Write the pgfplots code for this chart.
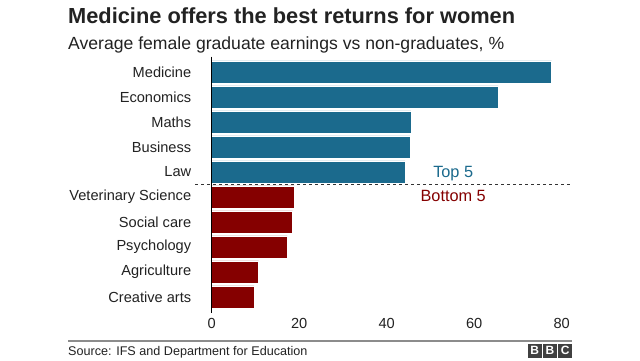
\documentclass[border=0pt]{standalone}
\usepackage{pgfplots}
\pgfplotsset{compat=1.18}
\usepackage{fontspec}
\setmainfont{Liberation Sans}
\definecolor{topblue}{HTML}{1B6A8D}
\definecolor{botred}{HTML}{850000}
\definecolor{txt}{HTML}{222222}
\begin{document}
\begin{tikzpicture}[x=1pt,y=1pt]
\path[fill=white] (0,0) rectangle (640,360);
% title
\node[anchor=base west,font=\fontsize{21.8}{24}\selectfont\bfseries,text=txt,inner sep=0] at (68,337) {Medicine offers the best returns for women};
\node[anchor=base west,font=\fontsize{17.6}{20}\selectfont,text=txt,inner sep=0] at (68,311) {Average female graduate earnings vs non-graduates, \%};
\begin{axis}[
  at={(211.7pt,50.5pt)}, anchor=south west,
  scale only axis, width=350pt, height=250pt,
  xmin=0, xmax=80, ymin=-0.5, ymax=9.5,
  y dir=reverse,
  xbar, bar width=0.9, bar shift=0pt,
  axis x line=none,
  axis y line*=left,
  y axis line style={draw=none},
  xtick={0,20,40,60,80},
  ytick={0,...,9},
  yticklabels={Medicine,Economics,Maths,Business,Law,Veterinary Science,Social care,Psychology,Agriculture,Creative arts},
  yticklabel style={font=\fontsize{14.6}{16}\selectfont, text=txt, xshift=-17pt},
  major tick length=0pt,
  clip=false,
]
\addplot[fill=topblue, draw=white, line width=0.5pt] coordinates {(77.7,0) (65.5,1) (45.5,2) (45.3,3) (44.2,4)};
\addplot[fill=botred, draw=white, line width=0.5pt] coordinates {(18.9,5) (18.5,6) (17.3,7) (10.7,8) (9.7,9)};
\draw[black, line width=1.2pt] (axis cs:0,-0.62) -- (axis cs:0,9.62);
\draw[dashed, line width=0.7pt, black!80] (axis cs:-3.8,4.5) -- (axis cs:81.9,4.5);
\node[text=topblue, font=\fontsize{16.3}{18}\selectfont] at (axis cs:55.2,4.05) {Top 5};
\node[text=botred, font=\fontsize{16.3}{18}\selectfont] at (axis cs:55.2,4.95) {Bottom 5};
\node[text=txt, font=\fontsize{14.6}{16}\selectfont] at (axis cs:0,9.5) [yshift=-13.5pt] {0};
\node[text=txt, font=\fontsize{14.6}{16}\selectfont] at (axis cs:20,9.5) [yshift=-13.5pt] {20};
\node[text=txt, font=\fontsize{14.6}{16}\selectfont] at (axis cs:40,9.5) [yshift=-13.5pt] {40};
\node[text=txt, font=\fontsize{14.6}{16}\selectfont] at (axis cs:60,9.5) [yshift=-13.5pt] {60};
\node[text=txt, font=\fontsize{14.6}{16}\selectfont] at (axis cs:80,9.5) [yshift=-13.5pt] {80};
\end{axis}
\draw[line width=1.3pt, black!45] (68,19) -- (572,19);
\node[anchor=base west,font=\fontsize{12.6}{14}\selectfont,text=txt,inner sep=0] at (68,4.5) {Source: IFS and Department for Education};
\foreach \i/\l in {0/B,1/B,2/C} {
  \fill[black!75] (528+\i*15.2,2.5) rectangle ++(13.6,13.6);
  \node[text=white, font=\fontsize{12}{13}\selectfont\bfseries, inner sep=0] at (528+\i*15.2+6.8,9.3) {\l};
}
\end{tikzpicture}
\end{document}
